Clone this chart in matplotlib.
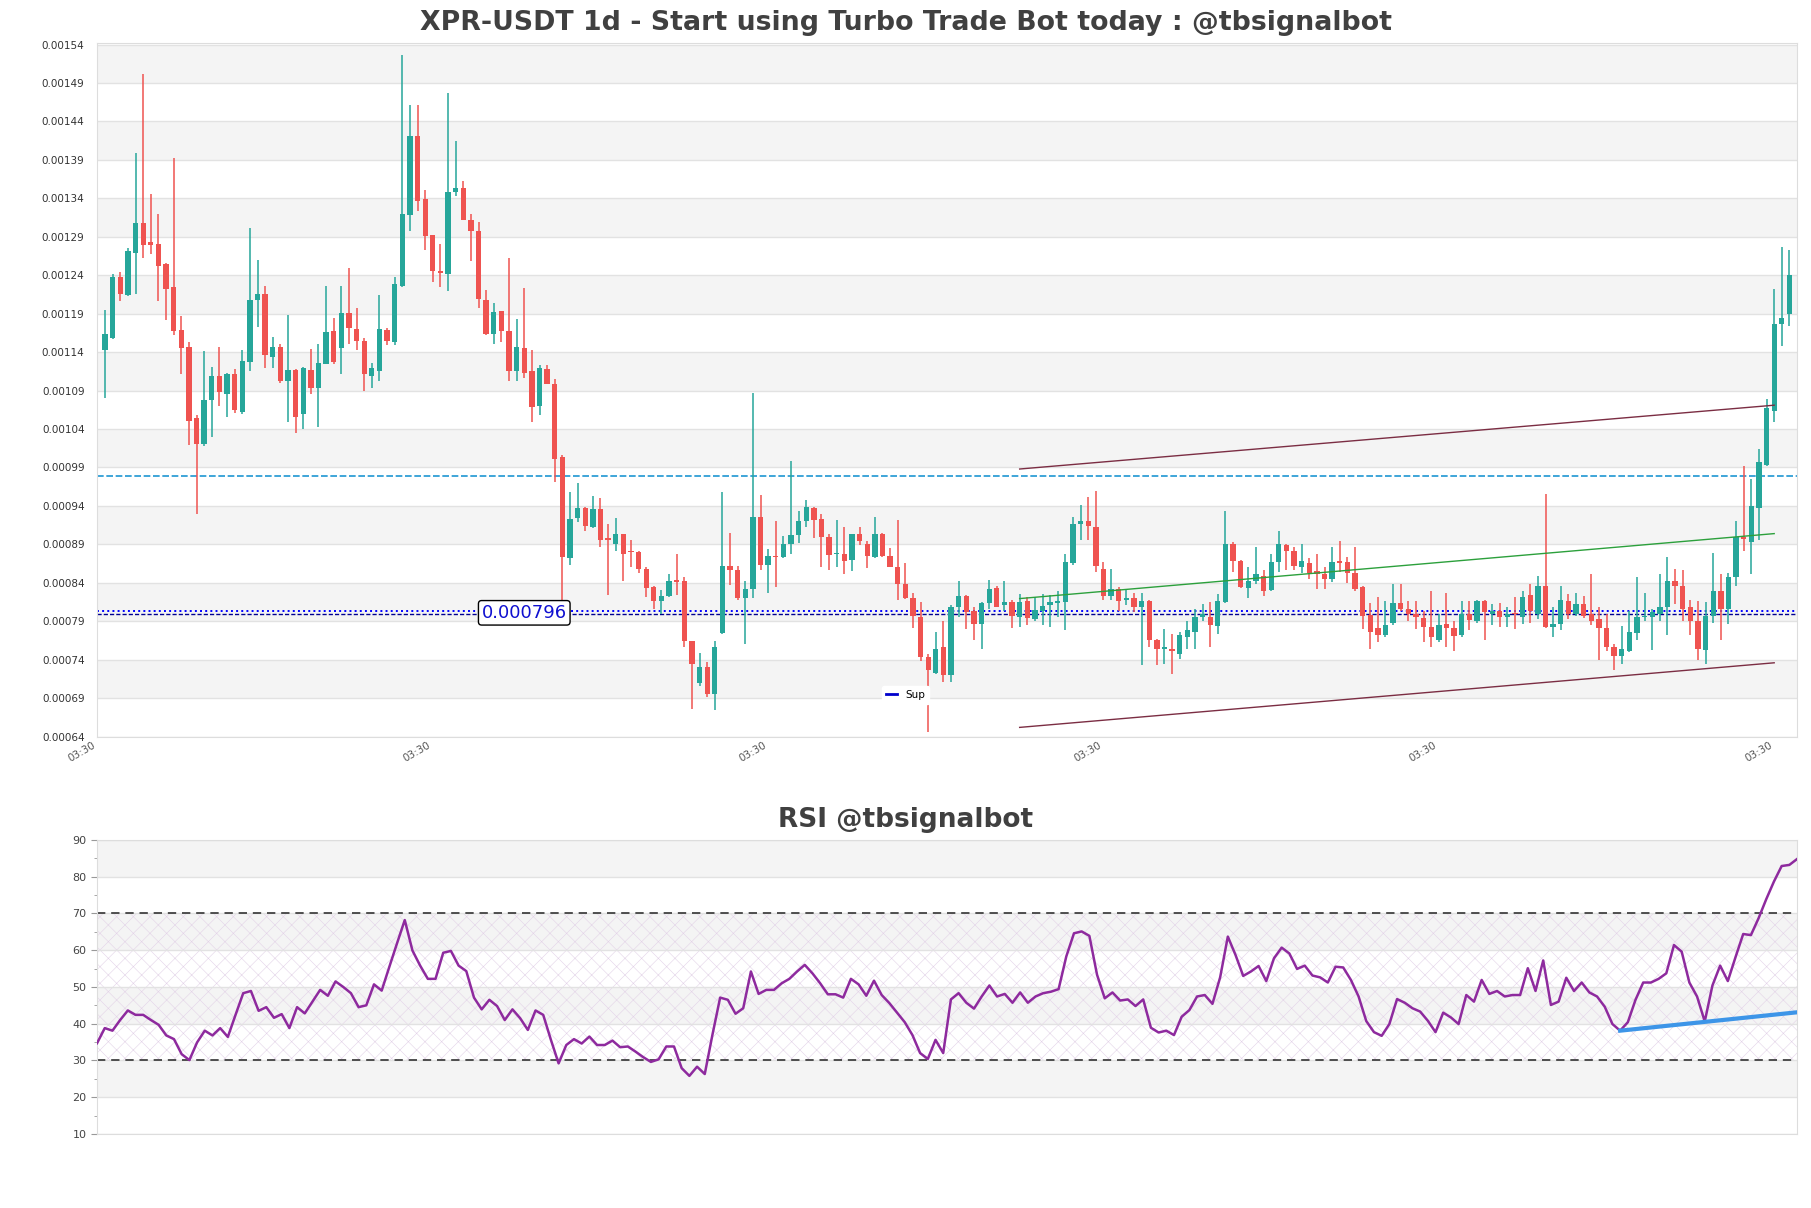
import numpy as np
import matplotlib
matplotlib.use("Agg")
from matplotlib import pyplot as plt
from matplotlib.lines import Line2D

# XPR-USDT daily candles, prices in units of 1e-5 USDT
opens = [
    114.3, 115.9, 123.8, 121.4, 126.9, 130.8, 128.3, 128.1, 125.5, 122.5,
    116.9, 114.7, 105.4, 102.0, 107.8, 110.9, 108.6, 111.2, 106.2, 112.7,
    120.8, 121.6, 113.4, 114.7, 110.3, 111.7, 105.9, 111.7, 109.4, 112.5,
    116.8, 114.6, 119.1, 117.0, 115.5, 110.9, 111.6, 116.9, 115.3, 122.6,
    131.8, 142.1, 133.9, 129.2, 124.6, 124.2, 134.8, 135.4, 131.2, 129.8,
    120.8, 116.3, 119.4, 116.7, 111.6, 114.6, 111.6, 107.0, 111.8, 109.9,
    100.4, 87.2, 92.4, 93.7, 91.3, 93.6, 89.8, 89.1, 90.4, 88.1,
    88.0, 85.8, 83.4, 81.7, 82.3, 84.4, 84.2, 76.4, 71.0, 73.0,
    69.5, 77.5, 86.2, 85.7, 82.0, 83.2, 92.6, 86.3, 87.5, 87.4,
    89.1, 90.2, 92.0, 93.7, 92.3, 89.9, 87.7, 87.7, 87.0, 90.4,
    89.0, 87.3, 90.4, 87.5, 86.0, 83.9, 82.0, 79.6, 74.4, 72.3,
    75.7, 72.0, 80.9, 82.3, 80.3, 78.7, 81.4, 83.3, 81.1, 81.5,
    79.6, 81.7, 79.3, 80.3, 81.1, 81.4, 81.5, 86.6, 91.6, 92.1,
    91.3, 85.8, 82.3, 83.2, 81.8, 82.0, 80.8, 81.7, 76.6, 75.4,
    75.4, 74.7, 76.9, 77.6, 79.6, 79.6, 78.4, 81.5, 89.0, 86.9,
    83.3, 84.2, 84.9, 83.1, 86.7, 88.9, 88.1, 86.0, 86.6, 85.5,
    85.1, 84.5, 86.8, 86.7, 85.3, 83.4, 79.8, 78.1, 77.2, 78.8,
    81.4, 80.6, 79.9, 79.4, 78.2, 76.5, 78.7, 78.1, 77.2, 80.0,
    79.1, 81.7, 80.0, 80.3, 79.6, 80.0, 79.6, 82.4, 80.0, 83.6,
    78.2, 78.7, 81.7, 80.0, 81.2, 79.9, 79.3, 78.1, 75.7, 74.5,
    75.1, 77.5, 79.6, 79.6, 80.0, 80.8, 84.3, 83.6, 80.9, 79.0,
    75.3, 79.7, 83.0, 80.6, 84.7, 90.0, 89.3, 93.7, 99.3, 106.4,
    117.7, 118.9]
highs = [
    119.5, 124.1, 124.4, 127.6, 139.9, 150.2, 134.5, 131.9, 125.6, 139.3,
    118.7, 115.3, 105.8, 114.1, 112.1, 114.7, 111.3, 111.8, 114.3, 130.2,
    126.0, 122.6, 116.0, 115.1, 118.8, 111.8, 112.1, 114.4, 115.1, 122.6,
    118.5, 122.6, 124.9, 119.8, 115.9, 112.6, 121.4, 117.2, 123.8, 152.7,
    146.2, 146.2, 135.1, 129.2, 128.1, 147.7, 141.5, 136.2, 131.9, 130.9,
    122.1, 120.4, 119.4, 126.3, 118.3, 122.3, 114.3, 112.3, 112.3, 110.5,
    100.6, 95.8, 97.0, 93.8, 95.3, 95.0, 91.7, 92.4, 90.4, 89.6,
    88.1, 86.0, 83.6, 83.1, 85.1, 87.8, 84.7, 76.4, 74.9, 73.7,
    76.4, 95.8, 90.5, 86.2, 84.2, 108.7, 95.4, 88.4, 92.1, 90.1,
    99.8, 93.3, 94.8, 93.9, 93.0, 90.4, 92.2, 91.2, 90.4, 91.3,
    89.4, 92.5, 90.5, 88.5, 92.2, 86.6, 82.7, 81.5, 74.7, 77.6,
    79.0, 81.1, 84.3, 82.4, 80.8, 81.5, 84.4, 83.6, 84.2, 81.8,
    82.5, 82.1, 82.1, 82.6, 82.4, 83.0, 87.8, 92.6, 94.1, 95.1,
    95.9, 86.7, 85.8, 83.4, 83.2, 82.7, 82.7, 81.8, 76.7, 78.0,
    77.3, 77.6, 79.1, 80.6, 81.2, 81.5, 82.6, 93.3, 89.3, 87.0,
    86.1, 88.7, 85.7, 87.7, 90.7, 89.0, 88.6, 89.0, 87.2, 87.7,
    86.0, 88.6, 89.5, 87.4, 88.7, 83.6, 81.4, 82.1, 81.7, 83.8,
    83.8, 81.7, 81.7, 80.3, 82.9, 80.0, 82.7, 79.1, 81.7, 81.7,
    81.8, 81.8, 81.2, 81.4, 80.8, 82.1, 83.0, 83.9, 84.9, 95.5,
    80.8, 83.6, 82.5, 82.7, 82.3, 85.1, 80.8, 80.0, 76.0, 78.4,
    80.3, 84.7, 82.7, 80.6, 85.2, 87.3, 85.8, 85.7, 81.8, 81.7,
    81.5, 87.9, 85.2, 85.3, 92.0, 99.2, 97.5, 101.4, 107.9, 122.2,
    127.7, 127.3]
lows = [
    108.0, 115.7, 120.6, 121.3, 121.5, 126.2, 126.7, 120.6, 118.2, 116.2,
    111.1, 101.9, 92.9, 101.8, 103.0, 107.0, 105.5, 106.1, 106.0, 111.5,
    117.3, 112.0, 112.0, 110.0, 104.9, 103.5, 104.0, 108.5, 104.2, 112.4,
    112.4, 111.2, 115.1, 114.3, 108.9, 109.4, 110.3, 114.9, 114.9, 122.5,
    129.8, 132.4, 127.3, 123.1, 122.5, 121.9, 134.3, 131.2, 125.9, 119.7,
    116.2, 115.1, 115.3, 110.2, 110.2, 110.7, 104.9, 105.8, 109.9, 97.1,
    81.7, 86.3, 91.9, 90.8, 91.1, 88.7, 82.4, 88.1, 84.2, 86.0,
    85.3, 82.1, 80.6, 79.9, 82.1, 82.4, 75.6, 67.6, 70.6, 69.2,
    67.4, 77.4, 83.7, 81.8, 76.0, 82.0, 85.7, 82.7, 83.5, 87.2,
    87.8, 89.2, 91.3, 89.8, 86.0, 85.7, 86.1, 85.2, 85.6, 88.9,
    85.9, 87.2, 87.3, 86.0, 81.8, 81.9, 78.1, 73.8, 64.6, 72.1,
    71.1, 71.1, 79.6, 78.0, 76.5, 75.4, 80.6, 80.8, 80.3, 78.1,
    78.3, 78.5, 79.1, 78.5, 78.3, 79.6, 77.8, 86.3, 89.6, 89.6,
    85.4, 81.8, 81.8, 80.3, 81.1, 80.2, 73.3, 75.7, 73.3, 73.5,
    72.1, 74.1, 75.4, 75.4, 79.1, 75.7, 77.3, 81.4, 85.4, 83.3,
    82.0, 83.9, 82.3, 83.0, 85.4, 85.7, 85.7, 85.3, 84.5, 83.2,
    83.2, 84.1, 85.4, 84.0, 83.0, 78.0, 75.4, 76.3, 77.0, 78.5,
    80.3, 79.0, 78.0, 76.3, 75.7, 76.3, 75.7, 75.1, 77.0, 77.8,
    78.8, 76.5, 78.5, 78.2, 78.2, 78.0, 78.7, 78.8, 79.3, 78.1,
    76.9, 77.8, 79.3, 79.7, 79.4, 78.5, 74.0, 75.1, 72.7, 73.4,
    75.0, 76.5, 79.1, 75.3, 79.1, 77.2, 81.2, 79.0, 77.2, 74.0,
    73.5, 78.8, 76.5, 78.7, 83.6, 88.1, 85.1, 89.6, 99.2, 104.9,
    114.8, 117.4]
closes = [
    116.3, 123.8, 121.5, 127.2, 130.8, 127.9, 127.9, 125.2, 122.2, 116.8,
    114.6, 105.1, 102.1, 107.8, 110.9, 108.8, 111.2, 106.5, 112.9, 120.8,
    121.6, 113.6, 114.7, 110.3, 111.7, 105.5, 111.9, 109.4, 112.6, 116.6,
    112.7, 119.1, 117.1, 115.4, 111.1, 111.9, 117.0, 115.5, 122.9, 131.9,
    142.1, 133.7, 129.1, 124.6, 124.3, 134.8, 135.4, 131.2, 129.7, 120.9,
    116.4, 119.2, 116.7, 111.6, 114.7, 111.3, 106.8, 112.0, 109.9, 100.1,
    87.3, 92.3, 93.7, 91.4, 93.6, 89.6, 89.6, 90.4, 87.8, 88.0,
    85.8, 83.3, 81.7, 82.3, 84.2, 84.1, 76.4, 73.5, 73.1, 69.5,
    75.6, 86.2, 85.7, 82.0, 83.2, 92.6, 86.3, 87.5, 87.3, 89.1,
    90.2, 92.0, 93.8, 92.2, 89.9, 87.6, 87.8, 86.9, 90.4, 89.4,
    87.5, 90.4, 87.5, 86.0, 83.9, 82.0, 79.7, 74.4, 72.7, 75.4,
    72.0, 80.9, 82.3, 80.2, 78.7, 81.4, 83.2, 80.9, 81.5, 79.7,
    81.5, 79.4, 80.5, 81.0, 81.5, 81.6, 86.7, 91.7, 92.1, 91.4,
    86.2, 82.3, 83.2, 81.7, 82.0, 80.8, 81.7, 76.6, 75.4, 75.7,
    75.1, 77.2, 77.8, 79.6, 79.9, 78.5, 81.7, 89.0, 86.8, 83.4,
    84.2, 85.2, 83.0, 86.7, 89.0, 88.1, 86.2, 86.8, 85.3, 85.1,
    84.5, 86.7, 86.6, 85.3, 83.2, 79.7, 77.6, 77.2, 78.5, 81.4,
    80.6, 79.9, 79.6, 78.2, 76.9, 78.5, 78.1, 77.1, 79.9, 79.2,
    81.7, 80.2, 80.3, 79.6, 80.0, 79.9, 82.2, 80.3, 83.6, 78.2,
    78.7, 81.8, 80.0, 81.2, 79.7, 79.1, 78.1, 75.6, 74.5, 75.4,
    77.6, 79.6, 79.7, 80.2, 80.8, 84.3, 83.6, 80.6, 79.0, 75.4,
    79.7, 83.0, 80.6, 84.7, 89.9, 89.7, 94.0, 99.7, 106.7, 117.7,
    118.4, 124.0]

rsi = [
    34.7, 38.8, 38.1, 41.0, 43.6, 42.4, 42.4, 41.0, 39.7, 36.8,
    35.8, 31.7, 30.1, 34.9, 38.1, 36.8, 38.8, 36.4, 42.4, 48.3,
    48.9, 43.5, 44.5, 41.6, 42.6, 38.8, 44.5, 42.8, 46.0, 49.2,
    47.6, 51.5, 50.0, 48.3, 44.5, 45.0, 50.7, 49.0, 55.5, 61.9,
    68.2, 59.9, 55.8, 52.2, 52.2, 59.3, 59.8, 55.8, 54.3, 47.1,
    43.9, 46.5, 44.8, 41.0, 43.9, 41.5, 38.3, 43.6, 42.4, 35.6,
    29.2, 34.2, 35.8, 34.6, 36.5, 34.2, 34.2, 35.4, 33.6, 33.8,
    32.4, 30.9, 29.6, 30.3, 33.8, 33.8, 27.9, 25.8, 28.3, 26.3,
    37.0, 47.1, 46.5, 42.7, 44.2, 54.2, 48.1, 49.2, 49.2, 51.0,
    52.2, 54.2, 56.0, 53.7, 51.0, 48.0, 48.0, 47.1, 52.2, 50.7,
    47.6, 51.7, 47.8, 45.6, 43.0, 40.4, 36.9, 32.0, 30.4, 35.6,
    32.0, 46.6, 48.3, 45.7, 44.1, 47.4, 50.4, 47.4, 48.1, 45.7,
    48.5, 45.7, 47.4, 48.3, 48.7, 49.4, 58.3, 64.6, 65.1, 63.9,
    53.3, 46.9, 48.5, 46.3, 46.6, 44.8, 46.6, 38.9, 37.6, 38.1,
    36.9, 41.9, 43.7, 47.4, 47.8, 45.4, 52.6, 63.7, 58.7, 53.0,
    54.2, 55.7, 51.6, 57.8, 60.7, 59.1, 54.9, 55.8, 53.1, 52.6,
    51.2, 55.5, 55.3, 51.9, 47.4, 40.7, 37.7, 36.7, 39.9, 46.7,
    45.7, 44.2, 43.3, 40.8, 37.7, 43.0, 41.7, 39.9, 47.8, 46.0,
    51.9, 48.1, 48.9, 47.4, 47.8, 47.8, 55.1, 48.9, 57.2, 45.1,
    46.0, 52.5, 48.9, 51.2, 48.5, 47.4, 44.6, 39.9, 38.1, 40.4,
    46.5, 51.2, 51.2, 52.2, 53.7, 61.4, 59.6, 51.2, 47.4, 40.6,
    50.4, 55.8, 51.6, 58.1, 64.4, 64.1, 68.7, 73.9, 78.7, 82.9,
    83.2, 84.8]

price_ticks = [64, 69, 74, 79, 84, 89, 94, 99, 104, 109, 114, 119, 124,
               129, 134, 139, 144, 149, 154]
date_labels = ["03:30"] * 6
resistance = 97.9
sup_levels = [80.3, 79.9]
sup_text = "0.000796"
sup_text_at = 55
chan_x = [120, 219]
chan_top = [98.8, 107.1]
chan_bottom = [65.2, 73.6]
chan_mid = [81.95, 90.4]
rsi_trend_x = [198, 221]
rsi_trend = [38.1, 43.1]

SCALE = 1e-5
UP = "#26a69a"
DOWN = "#ef5350"
BAND = "#f4f4f4"
GRID = "#e2e2e2"

o = np.array(opens) * SCALE
h = np.array(highs) * SCALE
l = np.array(lows) * SCALE
c = np.array(closes) * SCALE
x = np.arange(len(o))

plt.rcParams["hatch.linewidth"] = 0.4
fig = plt.figure(figsize=(18.11, 12.08), dpi=100)
ax = fig.add_axes([0.0536, 0.3899, 0.9387, 0.5745])
ax2 = fig.add_axes([0.0536, 0.0613, 0.9387, 0.2434])

# ---- price panel
for k in range(1, len(price_ticks) - 1, 2):
    ax.axhspan(price_ticks[k] * SCALE, price_ticks[k + 1] * SCALE, color=BAND, lw=0, zorder=0)
for t in price_ticks:
    ax.axhline(t * SCALE, color=GRID, lw=1, zorder=1)

colors = np.where(c >= o, UP, DOWN)
ax.vlines(x, l, h, colors=colors, lw=1.1, zorder=3)
body = np.maximum(np.abs(c - o), 0.12 * SCALE)
ax.bar(x, body, bottom=np.minimum(o, c), width=0.7, color=colors, lw=0, zorder=4)

ax.axhline(resistance * SCALE, color="#1e96d2", lw=1.2, dashes=(4, 1.6), zorder=2)
ax.axhline(sup_levels[0] * SCALE, color="#0000ff", lw=1.4, ls=":", zorder=2)
ax.axhline(sup_levels[1] * SCALE, color="#000090", lw=1.0, dashes=(3, 1.5), zorder=2)
ax.text(sup_text_at, np.mean(sup_levels) * SCALE, sup_text, color="#1010d0", fontsize=13,
        ha="center", va="center", zorder=6,
        bbox=dict(boxstyle="round,pad=0.18", fc="white", ec="black", lw=1))

ax.plot(chan_x, np.array(chan_top) * SCALE, color="#7b2d43", lw=1, zorder=5)
ax.plot(chan_x, np.array(chan_bottom) * SCALE, color="#7b2d43", lw=1, zorder=5)
ax.plot(chan_x, np.array(chan_mid) * SCALE, color="#2ca03c", lw=1, zorder=5)

ax.set_xlim(-1.05, 222.0)
ax.set_ylim(63.95 * SCALE, 154.2 * SCALE)
ax.set_yticks(np.array(price_ticks) * SCALE)
ax.set_yticklabels([f"{t * SCALE:.5f}" for t in price_ticks])
ax.set_xticks(-1.05 + 44 * np.arange(len(date_labels)))
ax.set_xticklabels(date_labels, rotation=30, ha="right")
ax.tick_params(axis="y", length=0, labelsize=7.5, labelcolor="#333333", pad=9)
ax.tick_params(axis="x", length=0, labelsize=7.5, labelcolor="#555555", pad=2)
for s in ax.spines.values():
    s.set_color("#dddddd")

fig.legend(handles=[Line2D([], [], color="#0000cc", lw=2)], labels=["Sup"],
           loc="center", bbox_to_anchor=(0.5, 0.4247), fontsize=7.5,
           frameon=True, edgecolor="white", facecolor="white", framealpha=1,
           handlelength=1.0, borderpad=0.4)

fig.text(0.5, 0.981, "XPR-USDT 1d - Start using Turbo Trade Bot today : @tbsignalbot",
         ha="center", va="center", fontsize=19.3, fontweight="bold", color="#404040")

# ---- RSI panel
xr = np.arange(len(rsi))
for lo in (20, 40, 60, 80):
    ax2.axhspan(lo, lo + 10, color=BAND, lw=0, zorder=0)
ax2.axhspan(30, 70, facecolor="none", edgecolor="#e3d3e8", hatch="xx", lw=0, zorder=1)
for t in range(10, 91, 10):
    ax2.axhline(t, color=GRID, lw=1, zorder=1)
ax2.axhline(30, color="#333333", lw=1.2, dashes=(5, 3.5), zorder=2)
ax2.axhline(70, color="#333333", lw=1.2, dashes=(5, 3.5), zorder=2)
ax2.plot(xr, rsi, color="#8e2a9e", lw=1.8, zorder=4)
ax2.plot(rsi_trend_x, rsi_trend, color="#3d95e8", lw=3, zorder=5)

ax2.set_xlim(0, len(rsi) - 1)
ax2.set_ylim(10, 90)
ax2.set_yticks(range(10, 91, 10))
ax2.set_yticks(range(15, 90, 10), minor=True)
ax2.set_xticks([])
ax2.tick_params(axis="y", which="major", length=4, color="#999999", labelsize=8, labelcolor="#444444")
ax2.tick_params(axis="y", which="minor", length=2.5, color="#999999")
for s in ax2.spines.values():
    s.set_color("#dddddd")

fig.text(0.5, 0.321, "RSI @tbsignalbot", ha="center", va="center",
         fontsize=19, fontweight="bold", color="#404040")

fig.savefig("out.png", dpi=100)
